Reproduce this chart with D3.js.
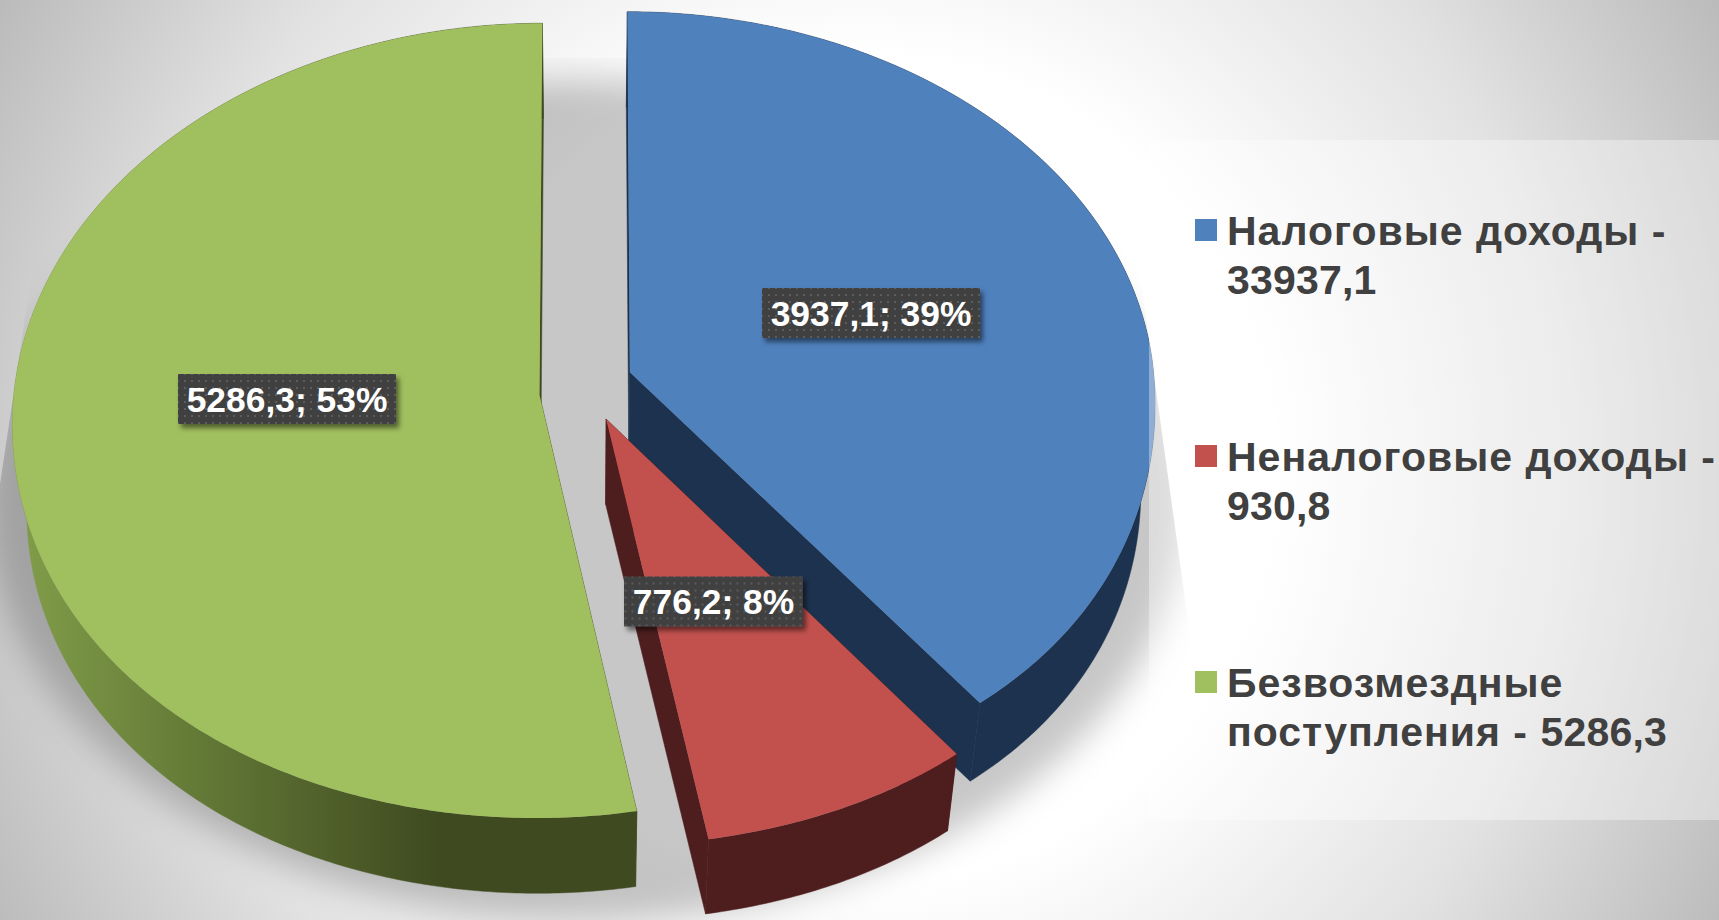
<!DOCTYPE html>
<html lang="ru">
<head>
<meta charset="utf-8">
<title>Доходы</title>
<script src="https://cdn.jsdelivr.net/npm/d3@7"></script>
<style>
html,body{margin:0;padding:0;background:#fff;overflow:hidden}
svg{display:block}
text{font-family:"Liberation Sans",Arial,sans-serif;font-weight:700}
</style>
</head>
<body>
<svg id="chart" width="1719" height="920"></svg>
<script>
// ---- data ----
const categories = ["Налоговые доходы", "Неналоговые доходы", "Безвозмездные поступления"];
const sliceValues = [3937.1, 776.2, 5286.3];
const slicePercents = [39, 8, 53];
const legendLines = [
  ["Налоговые доходы -", "33937,1"],
  ["Неналоговые доходы -", "930,8"],
  ["Безвозмездные", "поступления - 5286,3"]
];
const topColors = ["#4f81bd", "#c2514e", "#a0bf5e"];
const wallColors = ["#1d324e", "#4e1e1e", "url(#greenWall)"];

// ---- layout ----
const W = 1719, H = 920;
const R = 525, gx = 587, gy = 388, tilt = 0.752, persp = 0.065;
const bottomScale = 0.975, bottomDrop = 86;
const explode = [[43, -21], [19, 41], [-47.5, 9]];
const frontBulge = [0.018, 0.015, 0.008];
const backSquash = [0.976, 1, 1];
const labelCenters = [[871, 313], [713.5, 601.5], [287, 399]];
const labelBoxW = [218, 179, 218], labelBoxH = 50;
const legendX = 1227, legendMarkerX = 1195, legendFirstBaseline = 245, legendStep = 226, legendLine = 49;
const drawOrder = [0, 2, 1];

const svg = d3.select("#chart");
const defs = svg.append("defs");

const bg = defs.append("radialGradient").attr("id", "bg").attr("gradientUnits", "userSpaceOnUse")
  .attr("cx", 860).attr("cy", 470).attr("r", 985);
[[0, "#ffffff"], [0.42, "#ffffff"], [0.72, "#e2e2e2"], [1, "#bababa"]].forEach(s =>
  bg.append("stop").attr("offset", s[0]).attr("stop-color", s[1]));

const gw = defs.append("linearGradient").attr("id", "greenWall").attr("gradientUnits", "userSpaceOnUse")
  .attr("x1", 30).attr("x2", 440).attr("y1", 0).attr("y2", 0);
[[0, "#7f9b48"], [0.5, "#5d7233"], [1, "#3f4a20"]].forEach(s =>
  gw.append("stop").attr("offset", s[0]).attr("stop-color", s[1]));

defs.append("filter").attr("id", "shadowBlur").attr("x", "-20%").attr("y", "-20%").attr("width", "140%").attr("height", "140%")
  .append("feGaussianBlur").attr("stdDeviation", 17);
const ls = defs.append("filter").attr("id", "labelShadow").attr("x", "-10%").attr("y", "-20%").attr("width", "125%").attr("height", "150%");
ls.append("feDropShadow").attr("dx", 3).attr("dy", 4).attr("stdDeviation", 2.5).attr("flood-color", "#000").attr("flood-opacity", 0.5);

const pat = defs.append("pattern").attr("id", "dots").attr("patternUnits", "userSpaceOnUse").attr("width", 7).attr("height", 7);
pat.append("rect").attr("width", 7).attr("height", 7).attr("fill", "#404040");
pat.append("rect").attr("x", 2).attr("y", 2).attr("width", 2).attr("height", 2).attr("fill", "#5c5c5c");

defs.append("clipPath").attr("id", "shadowClip").append("polygon")
  .attr("points", "64,58 1110,58 1260,1140 -100,1140 0,484");

// background
svg.append("rect").attr("width", W).attr("height", H).attr("fill", "url(#bg)");

// ground shadow
svg.append("g").attr("clip-path", "url(#shadowClip)")
  .append("ellipse").attr("cx", 587).attr("cy", 500).attr("rx", 600).attr("ry", 420)
  .attr("fill", "#000").attr("fill-opacity", 0.22).attr("filter", "url(#shadowBlur)");

// ---- pie ----
const pie = d3.pie().sort(null).value(d => d);
const arcs = pie(sliceValues);
const line = d3.line().curve(d3.curveLinearClosed);

function project(i, theta, r) {
  const c = Math.cos(theta), q = Math.sin(2 * theta);
  const rr = c < 0 ? r * (1 + frontBulge[i] * q * q) : r;
  const wx = explode[i][0] + rr * Math.sin(theta);
  const wy = explode[i][1] - rr * c * (c > 0 ? backSquash[i] : 1);
  const s = 1 / (1 - persp * wy / R);
  return [gx + wx * s, gy + tilt * wy * s];
}
const lower = p => [gx + (p[0] - gx) * bottomScale, gy + (p[1] - gy) * bottomScale + bottomDrop];
function rim(i, a) {
  const n = Math.ceil((a.endAngle - a.startAngle) / 0.01);
  return d3.range(n + 1).map(k => project(i, a.startAngle + (a.endAngle - a.startAngle) * k / n, R));
}

const pieG = svg.append("g");
drawOrder.forEach(i => {
  const a = arcs[i];
  const outer = rim(i, a);
  const tip = project(i, 0, 0);
  const g = pieG.append("g");
  const wall = wallColors[i];
  // radial side faces
  [outer[0], outer[outer.length - 1]].forEach(p => {
    g.append("path").attr("fill", wall).attr("stroke", wall).attr("stroke-width", 0.5)
      .attr("d", line([tip, p, lower(p), lower(tip)]));
  });
  // outer curved wall
  g.append("path").attr("fill", wall).attr("stroke", wall).attr("stroke-width", 0.5)
    .attr("d", line(outer.concat(outer.map(lower).reverse())));
  // top face
  g.append("path").attr("fill", topColors[i]).attr("d", line([tip].concat(outer)));
});

// ---- data labels ----
const fmt = v => String(v).replace(".", ",");
const labels = svg.append("g").selectAll("g").data(sliceValues).join("g")
  .attr("transform", (d, i) => `translate(${labelCenters[i][0]},${labelCenters[i][1]})`);
labels.append("rect")
  .attr("x", (d, i) => -labelBoxW[i] / 2).attr("y", -labelBoxH / 2)
  .attr("width", (d, i) => labelBoxW[i]).attr("height", labelBoxH)
  .attr("fill", "url(#dots)").attr("filter", "url(#labelShadow)");
labels.append("text")
  .attr("text-anchor", "middle").attr("y", 12.5)
  .attr("font-size", 35.4).attr("fill", "#fff")
  .text((d, i) => `${fmt(d)}; ${slicePercents[i]}%`);

// ---- legend panel ----
svg.append("rect").attr("x", 1149).attr("y", 140).attr("width", W - 1149).attr("height", 680)
  .attr("fill", "#fff").attr("fill-opacity", 0.36);

const legend = svg.append("g").selectAll("g").data(categories).join("g");
legend.append("rect")
  .attr("x", legendMarkerX).attr("y", (d, i) => legendFirstBaseline + i * legendStep - 26)
  .attr("width", 22).attr("height", 22).attr("fill", (d, i) => topColors[i]);
legend.each(function (d, i) {
  const t = d3.select(this).selectAll("text").data(legendLines[i]).join("text")
    .attr("x", legendX)
    .attr("y", (s, j) => legendFirstBaseline + i * legendStep + j * legendLine)
    .attr("font-size", 41).attr("fill", "#404040");
  t.selectAll("tspan").data(s => s.match(/[\d,]+|[^\d,]+/g)).join("tspan")
    .attr("letter-spacing", s => /\d/.test(s) ? 0.2 : 1)
    .text(s => s);
});
</script>
</body>
</html>
